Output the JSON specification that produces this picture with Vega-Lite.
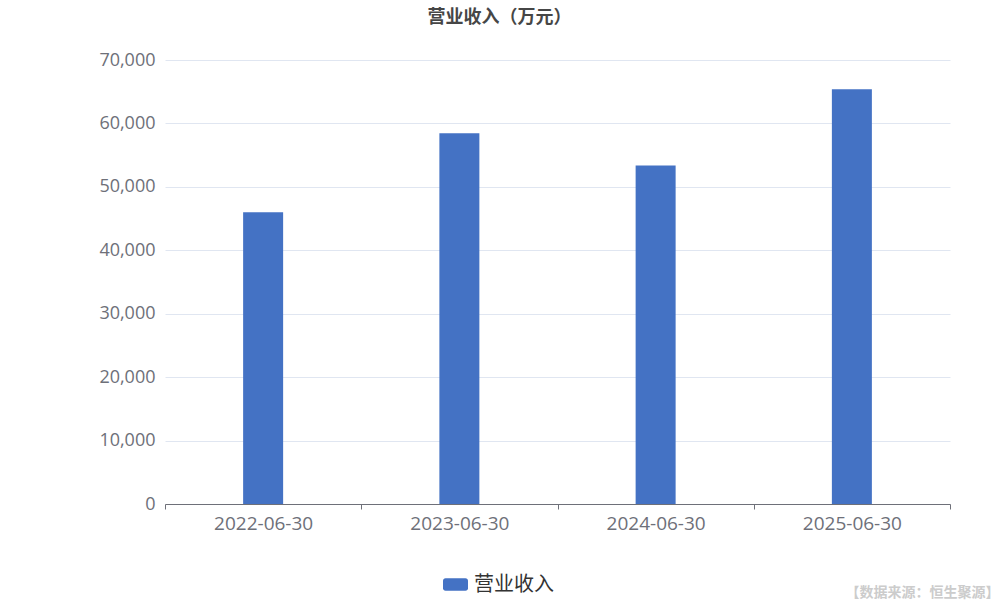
{
  "$schema": "https://vega.github.io/schema/vega-lite/v6.json",
  "autosize": {"type": "none"},
  "width": 785,
  "height": 444,
  "padding": {"left": 165, "top": 60, "right": 50, "bottom": 96},
  "background": "white",
  "config": {"view": {"stroke": null}, "font": "Noto Sans CJK SC"},
  "title": {
    "text": "营业收入（万元）",
    "anchor": "middle",
    "dx": -58,
    "offset": 24,
    "fontSize": 18,
    "fontWeight": "bold",
    "color": "#464646",
    "font": "Noto Sans CJK SC"
  },
  "data": {
    "values": [
      {"date": "2022-06-30", "series": "营业收入", "value": 46005},
      {"date": "2023-06-30", "series": "营业收入", "value": 58450},
      {"date": "2024-06-30", "series": "营业收入", "value": 53350},
      {"date": "2025-06-30", "series": "营业收入", "value": 65380}
    ]
  },
  "mark": {"type": "bar", "width": 40},
  "encoding": {
    "x": {
      "field": "date",
      "type": "nominal",
      "sort": null,
      "scale": {"paddingInner": 0, "paddingOuter": 0},
      "axis": {
        "title": "【数据来源：恒生聚源】",
        "titleFont": "Noto Sans CJK SC",
        "titleFontSize": 14,
        "titleFontWeight": "bold",
        "titleColor": "#CCCCCC",
        "titleAlign": "right",
        "titleAnchor": null,
        "titleX": 834,
        "titleY": 92,
        "titleBaseline": "alphabetic",
        "labelAngle": 0,
        "labelFont": "Open Sans",
        "labelFontSize": 19,
        "labelColor": "#6E7079",
        "labelPadding": 5,
        "domainColor": "#6E7079",
        "tickColor": "#6E7079",
        "tickSize": 5,
        "tickBand": "extent",
        "grid": false
      }
    },
    "y": {
      "field": "value",
      "type": "quantitative",
      "scale": {"domain": [0, 70000], "nice": false},
      "axis": {
        "title": null,
        "values": [0, 10000, 20000, 30000, 40000, 50000, 60000, 70000],
        "format": ",d",
        "labelOverlap": false,
        "labelFont": "Open Sans",
        "labelFontSize": 18,
        "labelColor": "#6E7079",
        "labelPadding": 10,
        "domain": false,
        "ticks": false,
        "gridColor": "#E0E6F1"
      }
    },
    "color": {
      "field": "series",
      "type": "nominal",
      "scale": {"range": ["#4472C4"]},
      "legend": {
        "title": null,
        "orient": "none",
        "legendX": 278,
        "legendY": 512,
        "symbolType": "M-0.8,-0.5 L0.8,-0.5 A0.2,0.2 0 0 1 1,-0.3 L1,0.3 A0.2,0.2 0 0 1 0.8,0.5 L-0.8,0.5 A0.2,0.2 0 0 1 -1,0.3 L-1,-0.3 A0.2,0.2 0 0 1 -0.8,-0.5 Z",
        "symbolSize": 625,
        "symbolStrokeWidth": 0,
        "labelFontSize": 20,
        "labelColor": "#333333",
        "labelOffset": 6,
        "labelFont": "Noto Sans CJK SC"
      }
    }
  }
}
